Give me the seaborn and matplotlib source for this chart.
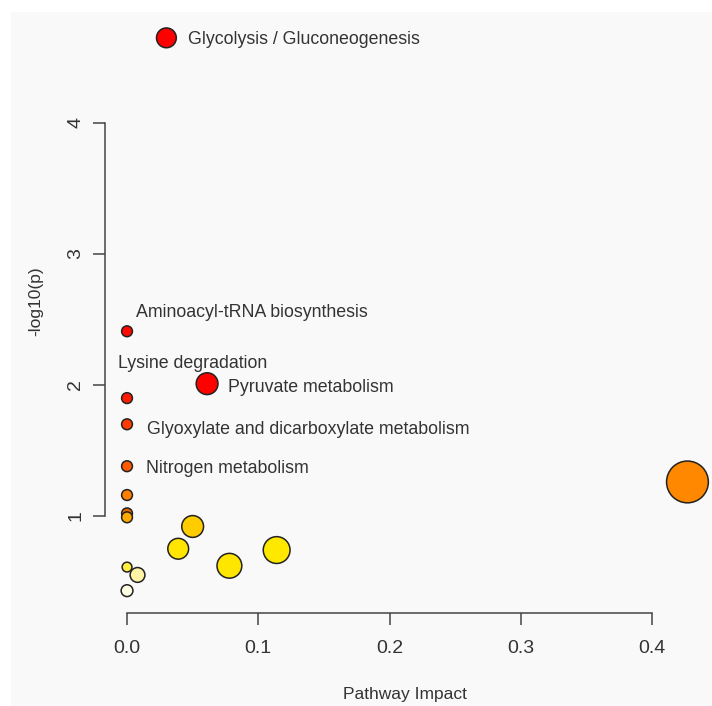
import numpy as np
import pandas as pd
import matplotlib
matplotlib.use("Agg")
import matplotlib.pyplot as plt
import seaborn as sns

# pathway impact vs -log10(p)
pathways = ["Glycolysis / Gluconeogenesis", "Aminoacyl-tRNA biosynthesis",
            "Pyruvate metabolism", "Lysine degradation",
            "Glyoxylate and dicarboxylate metabolism", "Nitrogen metabolism",
            "", "", "", "", "", "", "", "", "", "", ""]
impact = [0.030, 0.0, 0.061, 0.0, 0.0, 0.0, 0.0, 0.0, 0.0,
          0.427, 0.050, 0.039, 0.078, 0.114, 0.0, 0.008, 0.0]
logp = [4.65, 2.41, 2.01, 1.90, 1.70, 1.38, 1.16, 1.02, 0.99,
        1.26, 0.92, 0.75, 0.62, 0.74, 0.61, 0.55, 0.43]
node_size = [21, 12, 23, 12, 12, 12, 12, 12, 12,
             43, 23, 22, 26, 28, 11, 16, 13]
node_color = ["#FF0000", "#FF0A00", "#FF0000", "#FF1A00", "#FF3C00", "#FF5A00",
              "#FF8000", "#E26A00", "#FFAA00", "#FF8800", "#FFCC00", "#FFE500",
              "#FFE600", "#FFE800", "#FFEE40", "#FFF3A6", "#FFFDE2"]

# label offsets (pixels) from the point to the start of its text
label_dx = [22, 9, 21, -9, 20, 19]
label_dy = [-2, 19, -4, 35, -5, -2]

df = pd.DataFrame({"pathway": pathways, "impact": impact, "logp": logp,
                   "size": node_size, "color": node_color})

sns.set_style("ticks")
plt.rcParams["font.family"] = ["Liberation Sans", "DejaVu Sans"]
txt = "#333333"

fig = plt.figure(figsize=(7.12, 7.06), dpi=100)
fig.patch.set_facecolor("white")
ax = fig.add_axes([11 / 712, 0, 701 / 712, 694 / 706])
ax.set_facecolor("#f9f9f9")

sns.scatterplot(data=df, x="impact", y="logp", hue="color",
                palette={c: c for c in node_color},
                size="size", sizes={d: ((d - 1.2) * 0.72) ** 2 for d in node_size},
                edgecolor="#222222", linewidth=1.1, legend=False, ax=ax,
                zorder=3, clip_on=False)

for i, name in enumerate(pathways):
    if not name:
        continue
    ax.annotate(name, (impact[i], logp[i]), xytext=(label_dx[i], label_dy[i]),
                textcoords="offset pixels", ha="left", va="center",
                fontsize=12.8, color=txt)

ax.set_xlim(-0.0884, 0.4457)
ax.set_ylim(-0.4504, 4.8473)

for s in ["top", "right"]:
    ax.spines[s].set_visible(False)
ax.spines["left"].set_position(("data", -0.0168))
ax.spines["left"].set_bounds(1, 4)
ax.spines["bottom"].set_position(("data", 0.2595))
ax.spines["bottom"].set_bounds(0, 0.4)
for s in ["left", "bottom"]:
    ax.spines[s].set_color("#444444")
    ax.spines[s].set_linewidth(1.1)

ax.set_xticks([0, 0.1, 0.2, 0.3, 0.4])
ax.set_xticklabels(["0.0", "0.1", "0.2", "0.3", "0.4"])
ax.set_yticks([1, 2, 3, 4])
ax.set_yticklabels(["1", "2", "3", "4"], rotation=90, va="center")
ax.tick_params(axis="both", direction="out", length=8.6, width=1.1,
               color="#444444", labelsize=14, labelcolor=txt,
               bottom=True, left=True, top=False, right=False)
ax.tick_params(axis="x", pad=11)
ax.tick_params(axis="y", pad=6.5)

ax.set_xlabel("Pathway Impact", fontsize=12.5, color=txt)
ax.set_ylabel("-log10(p)", fontsize=12.5, color=txt)
ax.xaxis.label.set_va("center")
ax.yaxis.label.set_va("center")
ax.xaxis.set_label_coords(0.562, 0.0166)
ax.yaxis.set_label_coords(0.0357, 0.583)

fig.savefig("out.png", dpi=100, facecolor="white")
